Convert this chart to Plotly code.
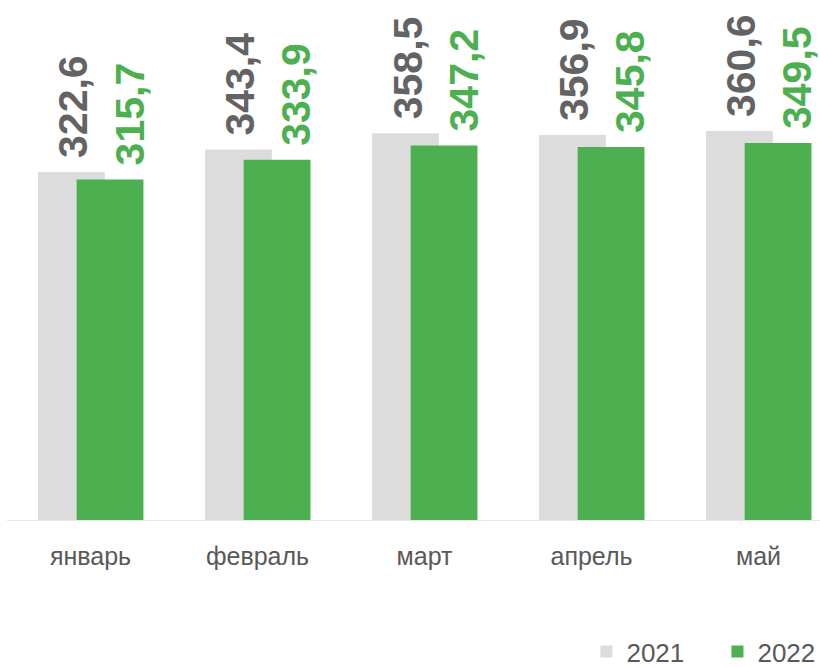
import plotly.graph_objects as go

months = ["январь", "февраль", "март", "апрель", "май"]
values_2021 = [322.6, 343.4, 358.5, 356.9, 360.6]
values_2022 = [315.7, 333.9, 347.2, 345.8, 349.5]

GRAY_BAR = "#dcdcdc"
GRAY_TEXT = "#636363"
GREEN = "#4caf50"
FONT = "Liberation Sans, Arial, sans-serif"


def fmt(v):
    return f"{v:.1f}".replace(".", ",")


fig = go.Figure()

# серая (2021) под зелёной (2022), столбцы перекрываются
fig.add_trace(go.Bar(
    x=months, y=values_2021, name="2021",
    marker=dict(color=GRAY_BAR, line=dict(width=0)),
    width=0.4, offset=-0.314,
    hoverinfo="x+y+name",
))
fig.add_trace(go.Bar(
    x=months, y=values_2022, name="2022",
    marker=dict(color=GREEN, line=dict(width=0)),
    width=0.4, offset=-0.083,
    hoverinfo="x+y+name",
))

# подписи значений, повёрнутые вертикально
for m, v in zip(months, values_2021):
    fig.add_annotation(
        x=m, y=v, text=fmt(v), textangle=-90, showarrow=False,
        xanchor="center", yanchor="bottom", xshift=-17, yshift=12,
        font=dict(family=FONT, size=41, color=GRAY_TEXT, weight="bold"),
    )
for m, v in zip(months, values_2022):
    fig.add_annotation(
        x=m, y=v, text=fmt(v), textangle=-90, showarrow=False,
        xanchor="center", yanchor="bottom", xshift=39, yshift=12,
        font=dict(family=FONT, size=41, color=GREEN, weight="bold"),
    )

fig.update_layout(
    width=820, height=667,
    margin=dict(l=7, r=0, t=0, b=147, autoexpand=False),
    paper_bgcolor="white", plot_bgcolor="white",
    barmode="overlay",
    font=dict(family=FONT, color="#595959"),
    showlegend=True,
    legend=dict(
        orientation="h", x=1.035, xanchor="right", y=-0.253, yanchor="middle",
        font=dict(size=26, color="#595959"),
        entrywidth=86, traceorder="normal",
    ),
)
fig.update_xaxes(
    range=[-0.5, 4.368], automargin=False,
    showline=True, linecolor="#e6e6e6", linewidth=1,
    showgrid=False, ticks="", ticklabelstandoff=14,
    tickfont=dict(size=25, color="#595959"),
)
fig.update_yaxes(
    range=[0, 482], visible=False, showgrid=False, zeroline=False,
    automargin=False,
)

fig.write_html(
    "out.html",
    config={"displayModeBar": False},
    post_script="document.body.style.margin='0';",
)
